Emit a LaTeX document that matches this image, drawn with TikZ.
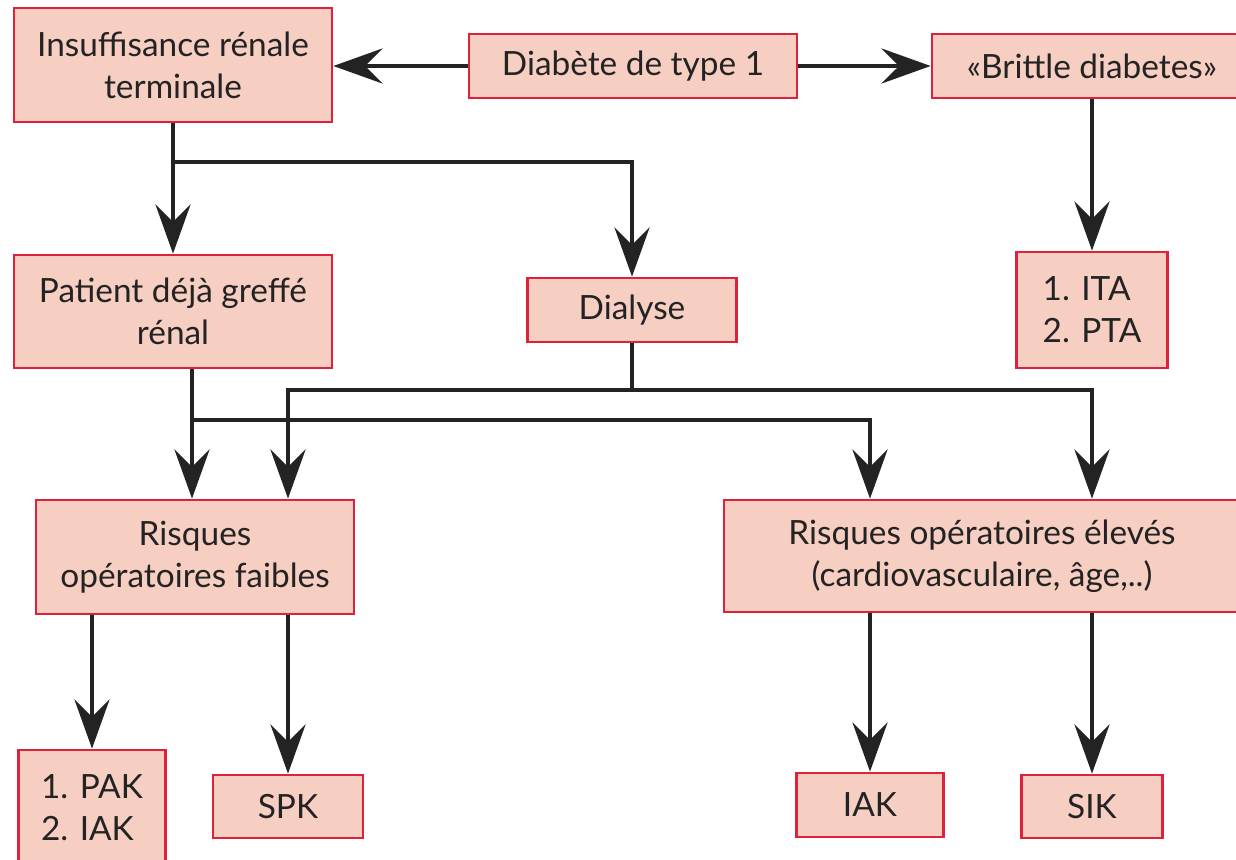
\documentclass[tikz,border=0pt]{standalone}
\usepackage{fontspec}
\setmainfont{Lato}
\usetikzlibrary{arrows.meta}
\definecolor{boxfill}{RGB}{246,206,194}
\definecolor{boxline}{RGB}{222,34,60}
\definecolor{ink}{RGB}{35,35,35}

\begin{document}
\begin{tikzpicture}[x=0.02cm,y=-0.02cm,>={Stealth[length=28pt,width=20pt,inset=10pt]},
  box/.style={draw=boxline,fill=boxfill,line width=1.6pt,align=center,inner sep=0pt,text=ink,font=\fontsize{19}{24}\selectfont},
  link/.style={line width=2pt,draw=ink}]
\fill[white] (0,0) rectangle (1236,859);
\clip (0,0) rectangle (1236,859);
\node[box,minimum width=6.36cm,minimum height=2.28cm] (irt) at (173,65) {Insuffisance rénale\\terminale};
\node[box,minimum width=6.56cm,minimum height=1.28cm] (diab) at (633,66) {Diabète de type 1};
\node[box,minimum width=6.4cm,minimum height=1.28cm] (brit) at (1092,66) {«Brittle diabetes»};
\node[box,align=left,minimum width=3.02cm,minimum height=2.32cm] (ita) at (1092,310) {1. ITA\\2. PTA};
\node[box,minimum width=6.36cm,minimum height=2.26cm] (pat) at (173,311.5) {Patient déjà greffé\\rénal};
\node[box,minimum width=4.18cm,minimum height=1.28cm] (dial) at (632,310) {Dialyse};
\node[box,minimum width=6.36cm,minimum height=2.28cm] (faib) at (195,557) {Risques\\opératoires faibles};
\node[box,minimum width=10.32cm,minimum height=2.24cm] (elev) at (982,556) {Risques opératoires élevés\\(cardiovasculaire, âge,..)};
\node[box,align=left,minimum width=2.94cm,minimum height=2.32cm] (pak) at (92,808) {1. PAK\\2. IAK};
\node[box,minimum width=3cm,minimum height=1.26cm] (spk) at (288,806.5) {SPK};
\node[box,minimum width=2.94cm,minimum height=1.28cm] (iak) at (870,805) {IAK};
\node[box,minimum width=2.82cm,minimum height=1.26cm] (sik) at (1092,806.5) {SIK};
% forks
\coordinate (k1) at (173,162);
\coordinate (k2) at (192,420);
\coordinate (k3) at (632,390);
\draw[link,->] (diab.west) -- (irt.east |- diab.west);
\draw[link,->] (diab.east) -- (brit.west);
\draw[link,->] (irt.south) -- (pat.north);
\draw[link,->] (k1) -| (dial.north);
\draw[link,->] (brit.south) -- (ita.north);
\draw[link,->] (pat.south -| k2) -- (faib.north -| k2);
\draw[link,->] (k2) -| (elev.north -| iak.north);
\draw[link] (dial.south) -- (k3);
\draw[link,->] (k3) -| (faib.north -| spk.north);
\draw[link,->] (k3) -| (elev.north -| sik.north);
\draw[link,->] (faib.south -| pak.north) -- (pak.north);
\draw[link,->] (faib.south -| spk.north) -- (spk.north);
\draw[link,->] (elev.south -| iak.north) -- (iak.north);
\draw[link,->] (elev.south -| sik.north) -- (sik.north);
\end{tikzpicture}
\end{document}
